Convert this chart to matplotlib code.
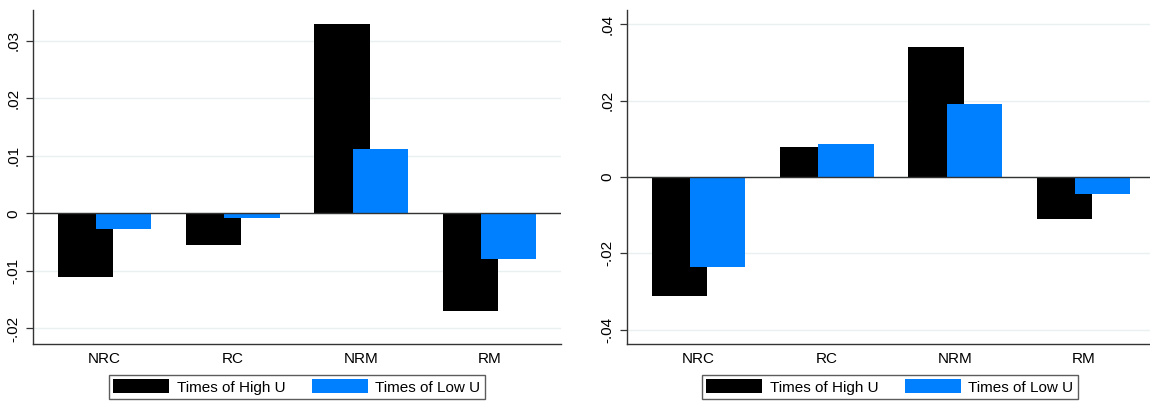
import matplotlib
matplotlib.use("Agg")
import matplotlib.pyplot as plt
import numpy as np
from matplotlib.ticker import FuncFormatter

plt.rcParams['font.family'] = ['Liberation Sans', 'DejaVu Sans']

categorias = ["NRC", "RC", "NRM", "RM"]
series = ["Times of High U", "Times of Low U"]

# painel esquerdo
alta_esq = [-0.0110, -0.0055, 0.0328, -0.0169]
baixa_esq = [-0.0027, -0.0008, 0.0112, -0.0080]
ticks_esq = [-0.02, -0.01, 0.0, 0.01, 0.02, 0.03]

# painel direito
alta_dir = [-0.0312, 0.0079, 0.0340, -0.0110]
baixa_dir = [-0.0237, 0.0087, 0.0192, -0.0045]
ticks_dir = [-0.04, -0.02, 0.0, 0.02, 0.04]

PRETO = "#000000"
AZUL = "#0080ff"
W, H = 1150, 401
FS = 11


def formato(v, pos):
    if abs(v) < 1e-12:
        return "0"
    s = f"{v:.2f}"
    return s.replace("0.", ".")


def painel(ax, alta, baixa, ticks, ylim):
    x = np.arange(len(categorias))
    larg = 0.43
    ax.bar(x - 0.149, alta, larg, color=PRETO, label=series[0], zorder=3)
    ax.bar(x + 0.149, baixa, larg, color=AZUL, label=series[1], zorder=4)
    ax.axhline(0, color="#333333", lw=1.0, zorder=5)
    ax.set_xlim(-0.557, 3.557)
    ax.set_ylim(*ylim)
    ax.set_yticks(ticks)
    ax.yaxis.set_major_formatter(FuncFormatter(formato))
    ax.grid(axis="y", color="#e8f0f1", lw=1.0, zorder=0)
    ax.set_axisbelow(True)
    ax.set_xticks(x)
    ax.set_xticklabels(categorias, fontsize=FS)
    ax.tick_params(axis="x", length=0, pad=6)
    ax.tick_params(axis="y", length=5, width=0.9, color="#333333", labelsize=FS, pad=4)
    for lab in ax.get_yticklabels():
        lab.set_rotation(90)
        lab.set_va("center")
    for s in ["top", "right"]:
        ax.spines[s].set_visible(False)
    for s in ["left", "bottom"]:
        ax.spines[s].set_color("#333333")
        ax.spines[s].set_linewidth(1.0)


fig = plt.figure(figsize=(W / 100, H / 100), dpi=100)
ax1 = fig.add_axes([33 / W, (H - 344) / H, 528 / W, 334 / H])
ax2 = fig.add_axes([627 / W, (H - 344) / H, 528 / W, 334 / H])

painel(ax1, alta_esq, baixa_esq, ticks_esq, (-0.0227, 0.0353))
painel(ax2, alta_dir, baixa_dir, ticks_dir, (-0.0438, 0.0438))

for ax, cx in [(ax1, 297), (ax2, 890)]:
    leg = ax.legend(loc="center", bbox_to_anchor=(cx / W, (H - 387) / H),
                    bbox_transform=fig.transFigure, ncol=2, fontsize=FS,
                    frameon=True, fancybox=False, handlelength=3.65,
                    handleheight=1.0, handletextpad=0.52, columnspacing=1.7,
                    borderpad=0.3, borderaxespad=0)
    leg.get_frame().set_edgecolor("#333333")
    leg.get_frame().set_linewidth(1.0)

fig.savefig("out.png", dpi=100)
